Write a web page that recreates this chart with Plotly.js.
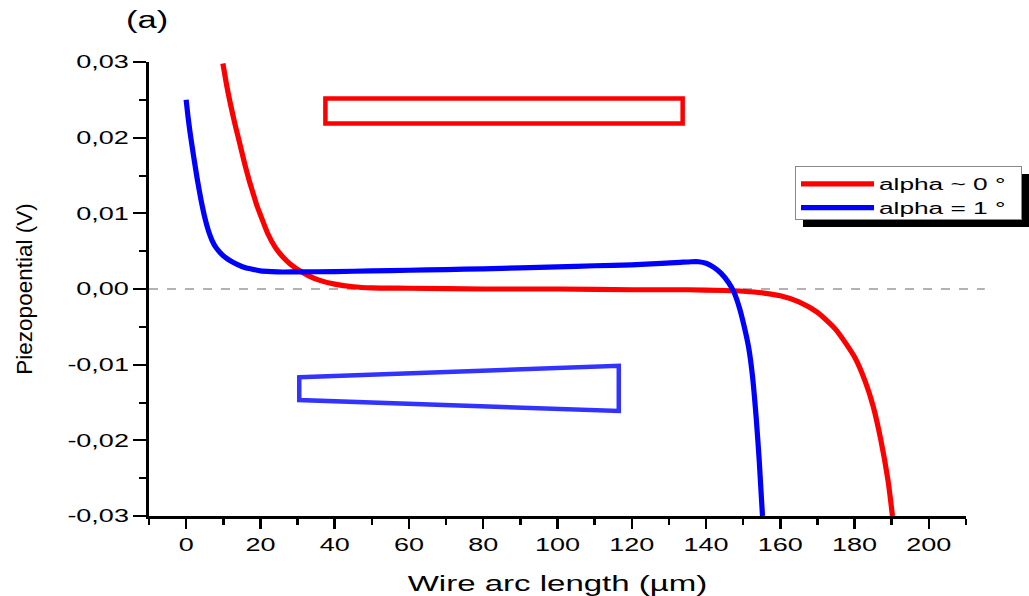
<!DOCTYPE html>
<html><head><meta charset="utf-8">
<script src="https://cdn.plot.ly/plotly-3.0.1.min.js"></script>
<style>html,body{margin:0;padding:0;background:#fff;overflow:hidden}</style>
</head><body><div id="chart" style="width:1029px;height:596px"></div>
<script>
// ---- data ----
const seriesNames = ['alpha ~ 0 °', 'alpha = 1 °'];
const redX = [9.9, 11, 12, 13, 14, 15, 16, 17, 18, 19, 20, 22, 24, 26, 28, 30, 33, 36, 40, 45, 50, 60, 80, 100, 120, 135, 145, 150, 155, 160, 165, 170, 175, 180, 183, 185, 187, 189, 190.2];
const redY = [0.0298, 0.0267, 0.0243, 0.0221, 0.0201, 0.0181, 0.0161, 0.0143, 0.0127, 0.0111, 0.0098, 0.0073, 0.0055, 0.00425, 0.0033, 0.0026, 0.00174, 0.00114, 0.00065, 0.0003, 0.00015, 0.0001, 0.0, 0.0, -0.0001, -0.0001, -0.0002, -0.0003, -0.0005, -0.0009, -0.0017, -0.0031, -0.0054, -0.0090, -0.0124, -0.0155, -0.0198, -0.0253, -0.0300];
const blueX = [0, 0.5, 1, 1.5, 2, 3, 4, 5, 6, 7, 8, 9, 10, 12, 14, 16, 18, 20, 23, 26, 30, 40, 50, 60, 70, 80, 90, 100, 110, 120, 128, 133, 136, 138, 140, 142, 144, 146, 147.5, 149, 150.3, 151.5, 152.5, 153.5, 154.3, 155.2];
const blueY = [0.0250, 0.0228, 0.0209, 0.0192, 0.0176, 0.0145, 0.0118, 0.0095, 0.0077, 0.0064, 0.0055, 0.0049, 0.0044, 0.0037, 0.0032, 0.0028, 0.0026, 0.0024, 0.0023, 0.00225, 0.00226, 0.0023, 0.0024, 0.00248, 0.00257, 0.00267, 0.0028, 0.00292, 0.00307, 0.0032, 0.00338, 0.00352, 0.0036, 0.0036, 0.0034, 0.0029, 0.0021, 0.0009, -0.0004, -0.0025, -0.0050, -0.0078, -0.0115, -0.0170, -0.0225, -0.0300];
const xTickVals = [0, 20, 40, 60, 80, 100, 120, 140, 160, 180, 200];
const xTickText = ['0', '20', '40', '60', '80', '100', '120', '140', '160', '180', '200'];
const yTickVals = [-0.03, -0.02, -0.01, 0, 0.01, 0.02, 0.03];
const yTickText = ['-0,03', '-0,02', '-0,01', '0,00', '0,01', '0,02', '0,03'];
const xTitle = 'Wire arc length (µm)';
const yTitle = 'Piezopoential (V)';
const panelLabel = '(a)';

const FONT = 'Liberation Sans, Arial, sans-serif';
const traces = [
  {x: redX, y: redY, name: seriesNames[0], type: 'scatter', mode: 'lines',
   line: {color: '#ff0000', width: 5.2, shape: 'spline', smoothing: 0.6}},
  {x: blueX, y: blueY, name: seriesNames[1], type: 'scatter', mode: 'lines',
   line: {color: '#0000ff', width: 5.2, shape: 'spline', smoothing: 0.6}}
];

const layout = {
  width: 1029, height: 596,
  margin: {l: 149, r: 63, t: 62, b: 80},
  paper_bgcolor: '#fff', plot_bgcolor: '#fff',
  font: {family: FONT, color: '#000'},
  showlegend: true,
  legend: {x: 0.7907, y: 0.7709, xanchor: 'left', yanchor: 'top',
    bgcolor: '#fff', bordercolor: '#888', borderwidth: 1,
    font: {family: FONT, size: 16, color: '#000'}, itemwidth: 73,
    tracegroupgap: 0},
  xaxis: {range: [-10, 210], tickvals: xTickVals, ticktext: xTickText,
    showline: true, linecolor: '#000', linewidth: 3, ticks: 'outside',
    ticklen: 10, tickwidth: 2.5, tickcolor: '#000', showgrid: false, zeroline: false,
    tickfont: {family: FONT, size: 18, color: '#000'},
    minor: {ticks: 'outside', ticklen: 5.5, tickwidth: 2.5, tickcolor: '#000', dtick: 10, tick0: 0, showgrid: false},
    title: {text: xTitle, font: {family: FONT, size: 22, color: '#000'}}},
  yaxis: {range: [-0.03, 0.03], tickvals: yTickVals, ticktext: yTickText,
    showline: true, linecolor: '#000', linewidth: 3.5, ticks: 'outside',
    ticklen: 13, tickwidth: 2, tickcolor: '#000', showgrid: false, zeroline: false,
    tickfont: {family: FONT, size: 18, color: '#000'}, automargin: true,
    minor: {ticks: 'outside', ticklen: 7, tickwidth: 2, tickcolor: '#000', dtick: 0.005, tick0: 0, showgrid: false},
    title: {text: yTitle, standoff: 50, font: {family: FONT, size: 22.5, color: '#000'}}},
  shapes: [
    {type: 'line', xref: 'paper', yref: 'y', x0: 0, x1: 1.023, y0: 0, y1: 0,
     line: {color: '#999', width: 1.3, dash: 'dash'}, layer: 'below'},
    {type: 'rect', xref: 'x', yref: 'y', x0: 37.5, x1: 133.7, y0: 0.02187, y1: 0.02518,
     line: {color: '#ff0000', width: 4.5}},
    {type: 'path', xref: 'x', yref: 'y',
     path: 'M30.46,-0.01167 L116.5,-0.01014 L116.5,-0.01612 L30.46,-0.01467 Z',
     line: {color: '#3333ff', width: 4.5}},
    {type: 'rect', xref: 'paper', yref: 'paper', x0: 0.8005, x1: 1.08, y0: 0.6366, y1: 0.7533,
     fillcolor: '#000', line: {width: 0}, layer: 'above'}
  ],
  annotations: [
    {text: panelLabel, xref: 'paper', yref: 'paper', x: -0.002, y: 1.0925,
     xanchor: 'center', yanchor: 'middle', showarrow: false,
     font: {family: FONT, size: 23, color: '#000'}}
  ]
};

const STRETCH = 1.5;
const LEGEND_STRETCH = 1.64;
const LEGEND_W = 226, LEGEND_H = 53;
function stretchText(gd) {
  const nodes = gd.querySelectorAll('.xtick text, .ytick text, .legendtext, .xtitle, .annotation-text');
  nodes.forEach(t => {
    t.removeAttribute('textLength');
    const L = t.getComputedTextLength();
    const s = t.classList.contains('legendtext') ? LEGEND_STRETCH : STRETCH;
    if (L > 0) {
      t.setAttribute('textLength', (L * s).toFixed(1));
      t.setAttribute('lengthAdjust', 'spacingAndGlyphs');
    }
  });
}
function fitLegendBox(gd) {
  const leg = gd.querySelector('.legend');
  if (!leg) return;
  const bg = leg.querySelector('rect.bg');
  if (bg) { bg.setAttribute('width', LEGEND_W); bg.setAttribute('height', LEGEND_H); }
  const sb = leg.querySelector('.scrollbox');
  const cp = sb && sb.getAttribute('clip-path');
  if (cp) {
    const m = cp.match(/#([^)"']+)/);
    const el = m && document.getElementById(m[1]);
    const r = el && el.querySelector('rect');
    if (r) { r.setAttribute('width', LEGEND_W); r.setAttribute('height', LEGEND_H); }
  }
}
Plotly.newPlot('chart', traces, layout, {displayModeBar: false, staticPlot: true})
  .then(gd => { stretchText(gd); fitLegendBox(gd); });
</script>
</body></html>
